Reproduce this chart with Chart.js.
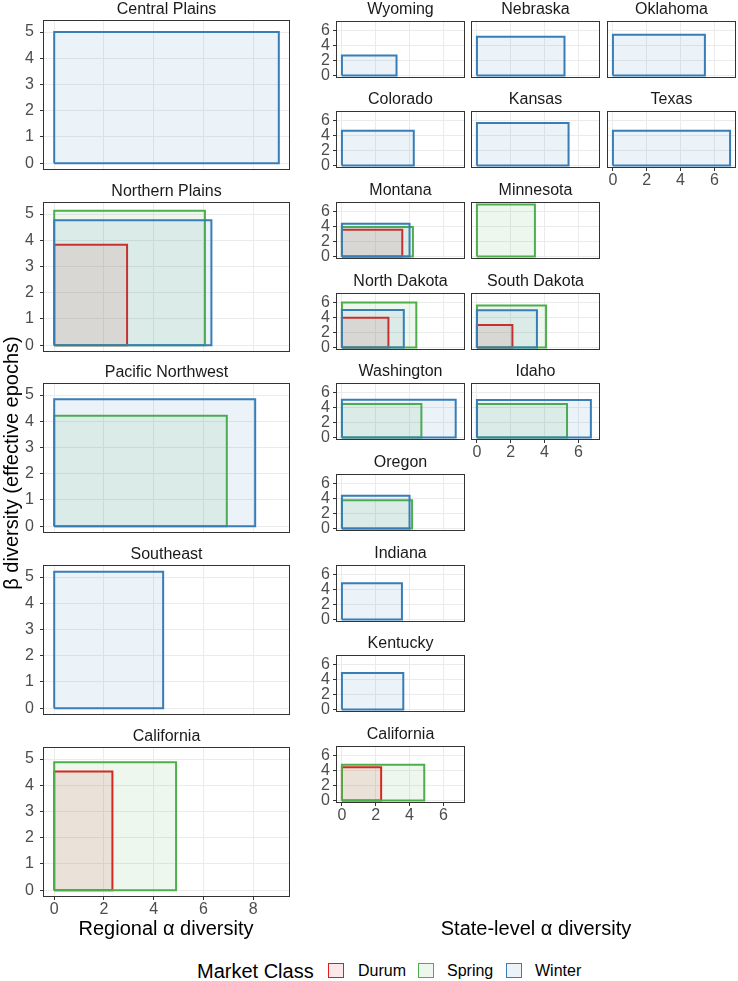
<!DOCTYPE html>
<html>
<head>
<meta charset="utf-8">
<script src="https://cdn.jsdelivr.net/npm/chart.js@4.4.0/dist/chart.umd.min.js"></script>
<style>
  body { margin: 0; background: #fff; width: 738px; height: 981px; position: relative; overflow: hidden;
         font-family: 'Liberation Sans', Arial, sans-serif; }
  canvas { position: absolute; }
  .title { position: absolute; text-align: center; font-size: 16px; line-height: 19px; height: 19px;
           color: #1a1a1a; white-space: nowrap; }
  .axis-title { position: absolute; font-size: 20px; line-height: 24px; height: 24px; color: #000;
                white-space: nowrap; text-align: center; }
  .legend { position: absolute; white-space: nowrap; }
  .key { position: absolute; width: 14px; height: 13px; }
</style>
</head>
<body>
<script>
// Market classes, drawn so that Winter sits on top
const classes = ['Winter', 'Spring', 'Durum'];
const classColors = { Durum: '228, 26, 28', Spring: '77, 175, 74', Winter: '55, 126, 184' };

// Regional panels (alpha = rectangle width, beta = rectangle height)
const regions = ['Central Plains', 'Northern Plains', 'Pacific Northwest', 'Southeast', 'California'];
const regionWinterAlpha = [9.03, 6.32, 8.08, 4.38, null];
const regionWinterBeta  = [5.00, 4.76, 4.84, 5.20, null];
const regionSpringAlpha = [null, 6.06, 6.94, null, 4.90];
const regionSpringBeta  = [null, 5.13, 4.21, null, 4.88];
const regionDurumAlpha  = [null, 2.93, null, null, 2.34];
const regionDurumBeta   = [null, 3.83, null, null, 4.53];

// State panels
const states = ['Wyoming', 'Nebraska', 'Oklahoma', 'Colorado', 'Kansas', 'Texas', 'Montana', 'Minnesota',
  'North Dakota', 'South Dakota', 'Washington', 'Idaho', 'Oregon', 'Indiana', 'Kentucky', 'California'];
const stateWinterAlpha = [3.23, 5.18, 5.44, 4.25, 5.42, 6.93, 4.00, null, 3.66, 3.55, 6.73, 6.74, 4.00, 3.55, 3.63, null];
const stateWinterBeta  = [2.69, 5.20, 5.47, 4.67, 5.73, 4.67, 4.40, null, 5.05, 5.00, 5.07, 5.03, 4.40, 4.87, 4.90, null];
const stateSpringAlpha = [null, null, null, null, null, null, 4.20, 3.43, 4.40, 4.09, 4.70, 5.33, 4.15, null, null, 4.87];
const stateSpringBeta  = [null, null, null, null, null, null, 3.95, 7.00, 6.04, 5.63, 4.50, 4.50, 3.80, null, null, 4.79];
const stateDurumAlpha  = [null, null, null, null, null, null, 3.57, null, 2.75, 2.10, null, null, null, null, null, 2.32];
const stateDurumBeta   = [null, null, null, null, null, null, 3.60, null, 4.00, 3.03, null, null, null, null, null, 4.47];

// Tick labels
const regionXTicks = [0, 2, 4, 6, 8];
const regionYTicks = [0, 1, 2, 3, 4, 5];
const stateXTicks = [0, 2, 4, 6];
const stateYTicks = [0, 2, 4, 6];

// Layout
const regionLayout = { left: 43, width: 247, height: 150, tops: [20, 202, 383, 565, 747],
                       xRange: [-0.45, 9.48], yRange: [-0.26, 5.46] };
const stateLayout = { cols: [336, 471, 607], tops: [21, 111, 202, 293, 383, 474, 565, 655, 746],
                      width: 129, height: 57, xRange: [-0.35, 7.28], yRange: [-0.35, 7.33] };
const stateCells = [[0,0],[0,1],[0,2],[1,0],[1,1],[1,2],[2,0],[2,1],[3,0],[3,1],[4,0],[4,1],[5,0],[6,0],[7,0],[8,0]];
const stateWithXAxis = ['Texas', 'Idaho', 'California'];

Chart.defaults.font.family = "'Liberation Sans', Arial, sans-serif";

const panelBorder = {
  id: 'panelBorder',
  afterDraw(chart) {
    const { ctx, chartArea: a } = chart;
    ctx.save();
    ctx.strokeStyle = '#333333';
    ctx.lineWidth = 1;
    ctx.strokeRect(Math.round(a.left) + 0.5, Math.round(a.top) + 0.5,
                   Math.round(a.right - a.left) - 1, Math.round(a.bottom - a.top) - 1);
    ctx.restore();
  }
};

function rectPoints(alpha, beta) {
  return [{ x: 0, y: 0 }, { x: 0, y: beta }, { x: alpha, y: beta }, { x: alpha, y: 0 }, { x: 0, y: 0 }];
}

function addText(cls, text, style) {
  const d = document.createElement('div');
  d.className = cls;
  d.textContent = text;
  Object.assign(d.style, style);
  document.body.appendChild(d);
  return d;
}

function makePanel(p) {
  // margin big enough for the half-height of the end tick labels
  const M = 18;
  const YW = p.showY ? p.yAxisWidth : 0;
  const XH = p.showX ? 24 : 0;
  const cw = M + YW + p.width + M;
  const ch = M + p.height + XH + M;

  const canvas = document.createElement('canvas');
  canvas.width = cw;
  canvas.height = ch;
  canvas.style.left = (p.left - YW - M) + 'px';
  canvas.style.top = (p.top - M) + 'px';
  canvas.style.width = cw + 'px';
  canvas.style.height = ch + 'px';
  document.body.appendChild(canvas);

  addText('title', p.title, {
    left: (p.left) + 'px', width: p.width + 'px', top: (p.top - p.titleGap) + 'px'
  });

  const datasets = p.series.filter(s => s.alpha != null).map(s => ({
    label: s.cls,
    data: rectPoints(s.alpha, s.beta),
    borderColor: `rgb(${classColors[s.cls]})`,
    backgroundColor: `rgba(${classColors[s.cls]}, 0.1)`,
    borderWidth: 2,
    borderJoinStyle: 'miter',
    fill: 'shape',
    tension: 0,
    pointRadius: 0,
    pointHoverRadius: 0
  }));

  new Chart(canvas, {
    type: 'line',
    data: { datasets },
    options: {
      responsive: false,
      animation: false,
      events: [],
      layout: { padding: M },
      plugins: { legend: { display: false }, tooltip: { enabled: false } },
      scales: {
        x: {
          type: 'linear',
          min: p.xRange[0],
          max: p.xRange[1],
          afterBuildTicks: s => { s.ticks = p.xTicks.map(v => ({ value: v })); },
          afterFit: s => { s.height = XH; },
          border: { display: false },
          grid: { color: '#EBEBEB', lineWidth: 1, drawTicks: p.showX, tickLength: 3, tickColor: '#333333' },
          ticks: { display: p.showX, color: '#4D4D4D', font: { size: 16 }, padding: 0, autoSkip: false, maxRotation: 0 }
        },
        y: {
          type: 'linear',
          min: p.yRange[0],
          max: p.yRange[1],
          afterBuildTicks: s => { s.ticks = p.yTicks.map(v => ({ value: v })); },
          afterFit: s => { s.width = YW; },
          border: { display: false },
          grid: { color: '#EBEBEB', lineWidth: 1, drawTicks: p.showY, tickLength: 3, tickColor: '#333333' },
          ticks: { display: p.showY, color: '#4D4D4D', font: { size: 16 }, padding: p.yPad, autoSkip: false }
        }
      }
    },
    plugins: [panelBorder]
  });
}

// Regional column
regions.forEach((name, i) => {
  makePanel({
    title: name,
    left: regionLayout.left, top: regionLayout.tops[i],
    width: regionLayout.width, height: regionLayout.height,
    xRange: regionLayout.xRange, yRange: regionLayout.yRange,
    xTicks: regionXTicks, yTicks: regionYTicks,
    showX: i === regions.length - 1, showY: true, yAxisWidth: 26, yPad: 6, titleGap: 21,
    series: [
      { cls: 'Winter', alpha: regionWinterAlpha[i], beta: regionWinterBeta[i] },
      { cls: 'Spring', alpha: regionSpringAlpha[i], beta: regionSpringBeta[i] },
      { cls: 'Durum', alpha: regionDurumAlpha[i], beta: regionDurumBeta[i] }
    ]
  });
});

// State grid
states.forEach((name, i) => {
  const [row, col] = stateCells[i];
  makePanel({
    title: name,
    left: stateLayout.cols[col], top: stateLayout.tops[row],
    width: stateLayout.width, height: stateLayout.height,
    xRange: stateLayout.xRange, yRange: stateLayout.yRange,
    xTicks: stateXTicks, yTicks: stateYTicks,
    showX: stateWithXAxis.includes(name), showY: col === 0, yAxisWidth: 24, yPad: 3, titleGap: 22,
    series: [
      { cls: 'Winter', alpha: stateWinterAlpha[i], beta: stateWinterBeta[i] },
      { cls: 'Spring', alpha: stateSpringAlpha[i], beta: stateSpringBeta[i] },
      { cls: 'Durum', alpha: stateDurumAlpha[i], beta: stateDurumBeta[i] }
    ]
  });
});

// Axis titles
addText('axis-title', 'Regional \u03b1 diversity', { left: '16px', width: '300px', top: '916px' });
addText('axis-title', 'State-level \u03b1 diversity', { left: '386px', width: '300px', top: '916px' });
addText('axis-title', '\u03b2 diversity (effective epochs)', {
  left: (11 - 250) + 'px', width: '500px', top: (463 - 12) + 'px', transform: 'rotate(-90deg)'
});

// Legend
addText('legend', 'Market Class', { left: '197px', top: '959px', fontSize: '20px', lineHeight: '24px' });
const legendKeys = [
  { cls: 'Durum', box: 328, text: 358 },
  { cls: 'Spring', box: 418, text: 447 },
  { cls: 'Winter', box: 506, text: 535 }
];
legendKeys.forEach(k => {
  const b = document.createElement('div');
  b.className = 'key';
  Object.assign(b.style, {
    left: k.box + 'px', top: '963px',
    border: `1.5px solid rgb(${classColors[k.cls]})`,
    background: `rgba(${classColors[k.cls]}, 0.1)`
  });
  document.body.appendChild(b);
  addText('legend', k.cls, { left: k.text + 'px', top: '961px', fontSize: '16px', lineHeight: '20px' });
});
</script>
</body>
</html>
